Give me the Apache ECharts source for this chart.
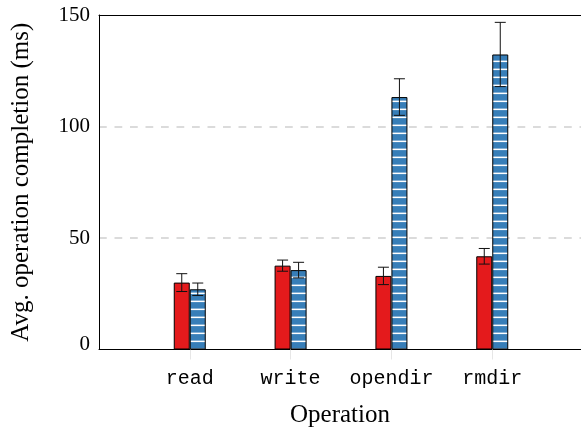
<!DOCTYPE html>
<html>
<head>
<meta charset="utf-8">
<script src="https://cdn.jsdelivr.net/npm/echarts@6/dist/echarts.min.js"></script>
<style>html,body{margin:0;padding:0;background:#fff}#c{width:581px;height:433px}</style>
</head>
<body>
<div id="c"></div>
<script>
const categories = ['read', 'write', 'opendir', 'rmdir'];
const redMean = [30, 37.6, 33, 41.8];
const redErr = [4, 2.5, 3.9, 3.5];
const blueMean = [27, 35.6, 113.2, 132.3];
const blueErr = [2.8, 3.5, 8.2, 14.4];
const yTicks = [0, 50, 100, 150];

// stripe pattern for second series
const pc = document.createElement('canvas');
pc.width = 8; pc.height = 8;
const pctx = pc.getContext('2d');
pctx.fillStyle = '#377eb8';
pctx.fillRect(0, 0, 8, 8);
pctx.fillStyle = '#ffffff';
pctx.fillRect(0, 4.6, 8, 1.5);

const xs = categories.map((c, i) => i + 1);
const serif = 'Liberation Serif';
const X_MIN = 0.1, X_MAX = 4.88;

function errSeries(mean, err, dx) {
  return {
    type: 'custom',
    z: 10,
    data: xs.map((x, i) => [x, mean[i], err[i]]),
    renderItem: function (params, api) {
      const x = api.value(0), m = api.value(1), e = api.value(2);
      const top = api.coord([x, m + e]);
      const bot = api.coord([x, m - e]);
      const cx = top[0] + dx;
      const hw = 5.5;
      const st = { stroke: '#111', lineWidth: 1, fill: null };
      return {
        type: 'group',
        children: [
          { type: 'line', shape: { x1: cx, y1: top[1], x2: cx, y2: bot[1] }, style: st },
          { type: 'line', shape: { x1: cx - hw, y1: top[1], x2: cx + hw, y2: top[1] }, style: st },
          { type: 'line', shape: { x1: cx - hw, y1: bot[1], x2: cx + hw, y2: bot[1] }, style: st }
        ]
      };
    }
  };
}

const chart = echarts.init(document.getElementById('c'), null, { renderer: 'canvas' });
chart.setOption({
  animation: false,
  grid: { left: 99, right: 0, top: 15, bottom: 83.5, show: false },
  xAxis: [{
    type: 'value', min: X_MIN, max: X_MAX,
    name: 'Operation', nameLocation: 'middle', nameGap: 53,
    nameTextStyle: { fontFamily: serif, fontSize: 25, color: '#000' },
    axisLine: { show: true, lineStyle: { color: '#000', width: 1 } },
    axisTick: { show: true, customValues: xs, length: 10, lineStyle: { color: '#e6e6e6', width: 1 } },
    axisLabel: {
      customValues: xs, margin: 19,
      formatter: v => categories[Math.round(v) - 1] || '',
      fontFamily: 'Liberation Mono', fontSize: 20, color: '#000'
    },
    splitLine: { show: false }
  }, {
    type: 'value', min: X_MIN, max: X_MAX, position: 'top',
    axisLine: { show: true, onZero: false, lineStyle: { color: '#000', width: 1 } },
    axisTick: { show: false }, axisLabel: { show: false }, splitLine: { show: false }
  }],
  yAxis: {
    type: 'value', min: 0, max: 150, interval: 50,
    name: 'Avg. operation completion (ms)', nameLocation: 'middle', nameGap: 65,
    nameTextStyle: { fontFamily: serif, fontSize: 25, color: '#000' },
    axisLine: { show: true, lineStyle: { color: '#000', width: 1 } },
    axisTick: { show: false },
    axisLabel: {
      margin: 9, fontFamily: serif, fontSize: 21, color: '#000',
      formatter: v => (yTicks.indexOf(v) === 0 ? '{z|' + v + '}' : String(v)),
      rich: { z: { fontFamily: serif, fontSize: 21, color: '#000', padding: [0, 0, 10, 0] } }
    },
    splitLine: { show: true, showMinLine: false, showMaxLine: false, lineStyle: { color: '#cfcfcf', width: 1.5, type: [7.75, 7.75] } }
  },
  series: [
    {
      type: 'bar', barWidth: 16, barGap: '0%',
      data: xs.map((x, i) => [x, redMean[i]]),
      itemStyle: { color: '#e41a1c', borderColor: '#000', borderWidth: 1 }
    },
    {
      type: 'bar', barWidth: 16, barGap: '0%',
      data: xs.map((x, i) => [x, blueMean[i]]),
      itemStyle: { color: { image: pc, repeat: 'repeat' }, borderColor: '#000', borderWidth: 1 }
    },
    errSeries(redMean, redErr, -8),
    errSeries(blueMean, blueErr, 8)
  ]
});
</script>
</body>
</html>
